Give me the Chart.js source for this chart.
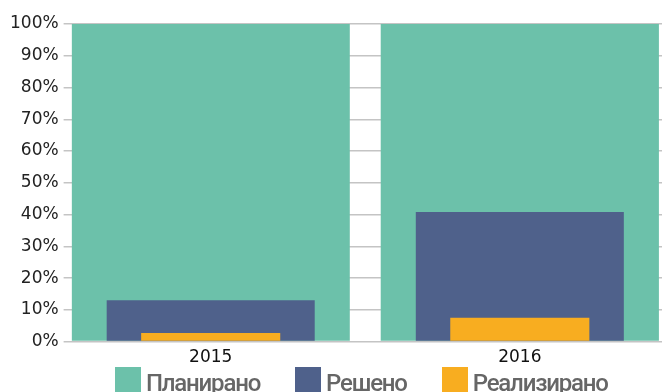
<!DOCTYPE html>
<html>
<head>
<meta charset="utf-8">
<script src="https://cdn.jsdelivr.net/npm/chart.js@4/dist/chart.umd.min.js"></script>
<style>
  html, body { margin: 0; padding: 0; background: #fff; overflow: hidden; }
  #wrap { position: relative; width: 662px; height: 392px; }
  #legend {
    position: absolute; left: 115px; top: 367px;
    display: flex; gap: 35px;
    font-family: Roboto, sans-serif; font-weight: 500; font-size: 24px; letter-spacing: -1.2px; color: #666;
  }
  .item { display: flex; align-items: flex-start; }
  .box { width: 26px; height: 26px; margin-right: 5px; }
  .item span { line-height: 1; margin-top: 4px; white-space: nowrap; }
</style>
</head>
<body>
<div id="wrap">
  <canvas id="chart" width="662" height="392"></canvas>
  <div id="legend"></div>
</div>
<script>
const years = ['2015', '2016'];
const planned = [100, 100];
const solved = [13, 40.8];
const realized = [2.7, 7.5];

const seriesNames = ['Планирано', 'Решено', 'Реализирано'];
const seriesColors = ['#6cc1aa', '#4f618b', '#f8ad20'];

const tickFont = { family: '"DejaVu Sans", sans-serif', size: 17 };

// bars sit at x = 0, 1 on a linear axis so the first one can hug the left edge
function points(values) {
  return values.map((v, i) => ({ x: i, y: v }));
}

const chart = new Chart(document.getElementById('chart'), {
  type: 'bar',
  data: {
    datasets: [
      { label: seriesNames[0], data: points(planned), backgroundColor: seriesColors[0], barPercentage: 0.9, order: 3 },
      { label: seriesNames[1], data: points(solved), backgroundColor: seriesColors[1], barPercentage: 0.673, order: 2 },
      { label: seriesNames[2], data: points(realized), backgroundColor: seriesColors[2], barPercentage: 0.45, order: 1 }
    ]
  },
  options: {
    responsive: false,
    animation: false,
    layout: { padding: { top: 24, left: 5, right: 0, bottom: 18 } },
    datasets: { bar: { grouped: false, categoryPercentage: 1 } },
    plugins: { legend: { display: false }, tooltip: { enabled: false } },
    scales: {
      x: {
        type: 'linear',
        offset: false,
        min: -0.45,
        max: 1.46,
        grid: { display: false, drawTicks: false },
        border: { display: false },
        afterBuildTicks: s => { s.ticks = years.map((_, i) => ({ value: i })); },
        ticks: {
          callback: v => years[v],
          padding: 6,
          maxRotation: 0,
          color: '#111',
          font: tickFont
        }
      },
      y: {
        min: 0,
        max: 100,
        grid: { color: '#c4c4c4', lineWidth: 1.5, tickLength: 8 },
        border: { display: false },
        ticks: {
          stepSize: 10,
          padding: 5,
          color: '#222',
          font: tickFont,
          callback: v => v + '%'
        }
      }
    }
  }
});

// legend in the planned -> solved -> realized order
document.getElementById('legend').innerHTML = chart.data.datasets.map(ds => `
  <div class="item"><div class="box" style="background:${ds.backgroundColor}"></div><span>${ds.label}</span></div>
`).join('');
</script>
</body>
</html>
